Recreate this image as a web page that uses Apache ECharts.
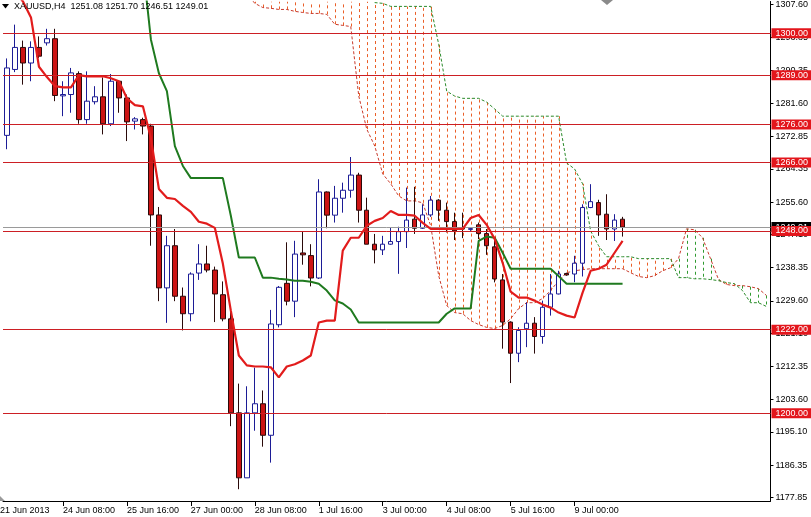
<!DOCTYPE html>
<html><head><meta charset="utf-8">
<script src="https://cdn.jsdelivr.net/npm/echarts@6/dist/echarts.min.js"></script>
<style>html,body{margin:0;padding:0;background:#fff}#c{width:811px;height:517px}</style>
</head><body><div id="c"></div>
<script>
const titleText = 'XAUUSD,H4  1251.08 1251.70 1246.51 1249.01';
const firstDateLabel = '21 Jun 2013';
const xTickLabels = ['24 Jun 08:00','25 Jun 16:00','27 Jun 00:00','28 Jun 08:00','1 Jul 16:00','3 Jul 00:00','4 Jul 08:00','5 Jul 16:00','9 Jul 00:00'];
const yTickValues = [1307.60,1298.85,1290.35,1281.60,1272.85,1264.35,1255.60,1247.10,1238.35,1229.60,1221.10,1212.35,1203.60,1195.10,1186.35,1177.85];
const levelLines = [1300,1289,1276,1266,1248,1222,1200];
const currentPrice = 1249.01;
const barCount = 96;

const opens = [1273.15,1290.5,1296.3,1292.2,1296.3,1297.5,1298.6,1283.55,1283.9,1289.4,
 1277.3,1282.0,1283.3,1276.2,1287.4,1283.0,1276.9,1277.3,1275.6,1252.2,
 1233.0,1244.1,1230.8,1226.2,1236.9,1239.3,1237.7,1231.2,1224.85,1200.1,
 1183.0,1200.1,1202.5,1194.2,1223.3,1234.2,1229.5,1242.2,1241.5,1235.6,
 1258.25,1252.15,1256.6,1258.7,1262.7,1253.45,1244.5,1243.0,1244.5,1245.2,
 1247.8,1251.1,1248.7,1252.2,1256.1,1253.45,1250.45,1248.7,1248.4,1249.6,
 1247.3,1243.8,1235.1,1224.0,1215.8,1222.25,1223.7,1220.2,1227.9,1231.4,
 1236.8,1236.65,1239.5,1254.15,1255.45,1252.4,1248.5,1251.08];
const closes = [1290.9,1296.3,1292.2,1296.3,1294.0,1298.6,1283.65,1283.9,1289.6,1277.3,
 1282.15,1283.3,1276.2,1287.4,1283.0,1276.7,1277.5,1275.6,1252.2,1233.0,
 1244.1,1230.8,1226.2,1236.65,1239.3,1237.7,1231.4,1224.85,1200.1,1183.0,
 1200.1,1202.5,1194.2,1223.5,1233.15,1229.5,1241.9,1241.7,1235.6,1258.25,
 1252.15,1256.6,1258.7,1262.7,1253.45,1244.5,1243.0,1244.5,1245.2,1247.8,
 1250.85,1248.7,1252.2,1256.1,1253.45,1250.45,1248.0,1248.5,1248.6,1247.3,
 1244.1,1235.35,1224.0,1215.8,1221.8,1223.7,1220.2,1227.9,1231.4,1236.65,
 1236.4,1239.5,1254.15,1255.7,1252.2,1248.5,1250.85,1249.01];
const lows = [1269.5,1289.8,1286.5,1287.4,1293.5,1296.8,1282.15,1278.2,1279.1,1276.2,
 1276.2,1281.3,1273.4,1275.6,1279.1,1271.65,1274.7,1273.4,1244.1,1229.5,
 1223.8,1229.5,1221.8,1224.2,1235.1,1237.1,1224.0,1224.2,1196.6,1180.0,
 1183.0,1195.4,1191.2,1187.0,1222.6,1228.4,1225.3,1239.1,1233.4,1235.35,
 1248.7,1250.2,1252.8,1256.75,1250.2,1244.5,1239.45,1241.65,1244.35,1236.7,
 1243.5,1247.2,1248.5,1251.7,1250.65,1247.6,1245.6,1246.1,1248.0,1245.85,
 1241.7,1234.45,1217.0,1207.95,1213.45,1217.4,1215.7,1218.3,1225.7,1231.3,
 1236.2,1234.5,1236.0,1254.0,1246.7,1245.6,1245.35,1246.51];
const highs = [1293.4,1302.3,1298.1,1297.9,1299.2,1301.2,1301.2,1287.4,1290.9,1290.0,
 1290.0,1286.1,1288.4,1289.3,1287.6,1283.9,1277.95,1277.8,1276.2,1254.3,
 1246.7,1248.5,1233.1,1237.1,1244.5,1244.1,1238.6,1234.7,1227.0,1207.8,
 1207.1,1212.0,1206.0,1227.2,1233.5,1245.0,1245.4,1247.8,1244.5,1261.6,
 1258.4,1259.85,1260.7,1267.45,1263.3,1256.75,1247.2,1246.7,1248.9,1249.1,
 1259.4,1259.6,1255.0,1257.2,1256.35,1255.45,1252.8,1252.8,1249.0,1250.2,
 1248.5,1245.85,1236.65,1224.2,1222.65,1229.2,1225.3,1229.65,1236.65,1237.5,
 1237.0,1241.45,1255.0,1260.3,1256.2,1257.65,1252.4,1251.70];

const tenkan = [1313,1311,1308.4,1304.2,1291.2,1288.5,1286.1,1285.8,1285.8,1289.0,
 1288.7,1288.7,1288.7,1288.2,1287.4,1282.9,1281.1,1280.8,1272.4,1259.05,
 1256.7,1256.4,1254.6,1253.0,1250.4,1249.9,1248.8,1239.4,1227.0,1215.2,
 1212.6,1212.3,1212.3,1212.1,1209.45,1212.3,1212.9,1213.9,1215.2,1223.9,
 1224.4,1224.4,1242.8,1246.2,1246.2,1249.35,1250.65,1251.4,1253.25,1252.2,
 1252.2,1252.0,1250.1,1248.55,1248.55,1248.55,1248.55,1248.55,1251.4,1252.2,
 1249.6,1245.9,1239.6,1232.0,1230.45,1230.45,1229.65,1228.6,1227.8,1226.5,
 1225.7,1225.2,1231.75,1237.5,1238.05,1239.1,1242.25,1245.4];
const kijun = [null,null,null,null,null,null,null,null,null,null,
 null,null,null,null,null,null,null,1318,1298.4,1289.5,
 1284.8,1270.3,1265.1,1261.9,1261.9,1261.9,1261.9,1261.9,1252.0,1241.0,
 1241.0,1241.0,1235.7,1235.7,1235.4,1235.2,1234.9,1234.9,1234.6,1234.1,
 1232.3,1229.7,1228.9,1227.3,1223.9,1223.9,1223.9,1223.9,1223.9,1223.9,
 1223.9,1223.9,1223.9,1223.9,1223.9,1226.2,1227.6,1227.6,1227.6,1245.4,
 1246.5,1246.2,1242.25,1238.05,1238.05,1238.05,1238.05,1238.05,1238.05,1236.1,
 1234.1,1234.1,1234.1,1234.1,1234.1,1234.1,1234.1,1234.1];
const senkouA = [null,null,null,null,null,null,null,null,null,null,
 null,null,null,null,null,null,null,null,null,null,
 null,null,null,null,null,null,null,null,null,null,
 1310.5,1307.9,1306.8,1306.6,1306.3,1306.3,1305.8,1305.5,1305.25,1305.25,
 1305.0,1302.4,1302.1,1301.8,1283.5,1274.8,1270.35,1263.0,1260.4,1257.2,
 1255.9,1255.9,1255.4,1249.35,1236.2,1228.35,1226.5,1226.2,1224.4,1223.35,
 1222.6,1222.3,1223.1,1224.9,1227.55,1229.1,1229.1,1230.2,1232.3,1234.9,
 1237.0,1237.5,1237.8,1238.05,1238.05,1238.05,1238.05,1238.05,1237.0,1236.0,
 1235.7,1236.2,1237.5,1238.3,1240.7,1248.55,1248.3,1246.2,1240.7,1235.2,
 1233.9,1233.6,1233.6,1233.3,1232.8,1231.0];
const senkouB = [null,null,null,null,null,null,null,null,null,null,
 null,null,null,null,null,null,null,null,null,null,
 null,null,null,null,null,null,null,null,null,null,
 1313,1313,1313,1313,1313,1313,1313,1313,1313,1313,
 1313,1313,1313,1313,1313,1313,1308.1,1307.9,1307.1,1307.1,
 1307.1,1307.1,1307.1,1307.1,1297.1,1284.8,1283.5,1282.9,1282.9,1282.9,
 1281.9,1280.1,1278.2,1278.2,1278.2,1278.2,1278.2,1278.2,1278.2,1278.2,
 1265.9,1264.3,1260.4,1248.0,1244.1,1241.2,1241.2,1241.2,1241.2,1240.7,
 1240.7,1240.7,1240.7,1240.7,1235.7,1235.7,1235.4,1235.4,1235.2,1234.9,
 1234.4,1234.1,1232.3,1229.1,1229.1,1228.1];

const FONT = '"Liberation Sans", Arial, sans-serif';
const categories = [];
for (let i = 0; i < barCount; i++) categories.push(String(i));
const candleData = opens.map((o, i) => [o, closes[i], lows[i], highs[i]]);
const hatchData = [];
senkouA.forEach((a, i) => { const b = senkouB[i]; if (a != null && b != null) hatchData.push([i, a, b]); });
const isTick = (idx) => idx >= 7 && (idx - 7) % 8 === 0 && (idx - 7) / 8 < xTickLabels.length;

const chart = echarts.init(document.getElementById('c'), null, {renderer: 'canvas'});
chart.setOption({
  animation: false,
  backgroundColor: '#ffffff',
  grid: {left: 3, right: 40, top: 0, bottom: 16},
  xAxis: {
    type: 'category', data: categories, boundaryGap: true,
    axisLine: {show: true, lineStyle: {color: '#000', width: 1}},
    axisTick: {show: true, alignWithLabel: true, interval: isTick, length: 5, lineStyle: {color: '#000'}},
    axisLabel: {show: true, interval: isTick, align: 'left', margin: 5, fontSize: 9, fontFamily: FONT, color: '#000',
      formatter: (v, idx) => xTickLabels[(idx - 7) / 8] || ''},
    splitLine: {show: false}
  },
  yAxis: {
    type: 'value', position: 'right', min: 1176.9, max: 1308.4, scale: true,
    axisLine: {show: true, lineStyle: {color: '#000', width: 1}},
    axisTick: {show: true, length: 3, customValues: yTickValues, lineStyle: {color: '#000'}},
    axisLabel: {show: true, customValues: yTickValues, margin: 5, fontSize: 9, fontFamily: FONT, color: '#000',
      formatter: v => Number(v).toFixed(2)},
    splitLine: {show: false}
  },
  series: [
    {
      type: 'custom', name: 'kumo', z: 1, silent: true, clip: true,
      data: hatchData, encode: {x: 0, y: [1, 2]},
      renderItem: (params, api) => {
        const a = api.value(1), b = api.value(2), i = api.value(0);
        const cs = params.coordSys;
        const p1 = api.coord([i, a]), p2 = api.coord([i, b]);
        const clamp = y => Math.max(cs.y, Math.min(cs.y + cs.height, y));
        const y1 = clamp(p1[1]), y2 = clamp(p2[1]);
        if (Math.abs(y1 - y2) < 0.5) return null;
        const x = Math.round(p1[0]) + 0.5;
        return {type: 'line', shape: {x1: x, y1: y1, x2: x, y2: y2},
          style: {stroke: b > a ? '#ea5f28' : '#2f9a2f', lineWidth: 1, lineDash: [3, 3]}};
      },
      markLine: {
        symbol: ['none', 'none'], silent: true, animation: false,
        lineStyle: {color: '#cc1f24', width: 1, type: 'solid'},
        label: {show: true, position: 'end', distance: 1, color: '#fff', backgroundColor: '#e3161c',
          padding: [1, 3, 0, 4], fontSize: 9, fontFamily: FONT, lineHeight: 9,
          formatter: p => Number(p.value).toFixed(2)},
        data: [{yAxis: currentPrice, lineStyle: {color: '#9a9a9a'}, label: {backgroundColor: '#000'}}]
          .concat(levelLines.map(v => ({yAxis: v})))
      }
    },
    {type: 'line', name: 'Senkou A', data: senkouA, z: 2, showSymbol: false, silent: true,
      lineStyle: {color: '#c83a2c', width: 1, type: [3, 2]}},
    {type: 'line', name: 'Senkou B', data: senkouB, z: 2, showSymbol: false, silent: true,
      lineStyle: {color: '#2a8a2a', width: 1, type: [3, 2]}},
    {type: 'candlestick', name: 'XAUUSD', data: candleData, z: 3, barWidth: 5, silent: true,
      itemStyle: {color: '#ffffff', color0: '#cc1414', borderColor: '#1c1c96', borderColor0: '#2a0a0a', borderWidth: 1}},
    {type: 'line', name: 'Kijun', data: kijun, z: 4, showSymbol: false, silent: true,
      lineStyle: {color: '#1f7a1f', width: 2}},
    {type: 'line', name: 'Tenkan', data: tenkan, z: 5, showSymbol: false, silent: true,
      lineStyle: {color: '#e21c1c', width: 2.2}}
  ],
  graphic: [
    {type: 'polygon', shape: {points: [[2, 4], [9, 4], [5.5, 8.5]]}, style: {fill: '#000'}, z: 10},
    {type: 'text', left: 14, top: 2, style: {text: titleText, font: '9px ' + FONT, fill: '#000'}, z: 10},
    {type: 'polygon', shape: {points: [[601, 0], [613, 0], [607, 5]]}, style: {fill: '#8a8a8a'}, z: 10},
    {type: 'polygon', shape: {points: [[0, 496], [5, 501], [0, 501]]}, style: {fill: '#9a9a9a'}, z: 10},
    {type: 'text', left: 0, top: 506, style: {text: firstDateLabel, font: '9px ' + FONT, fill: '#000'}, z: 10}
  ]
});
</script>
</body></html>
